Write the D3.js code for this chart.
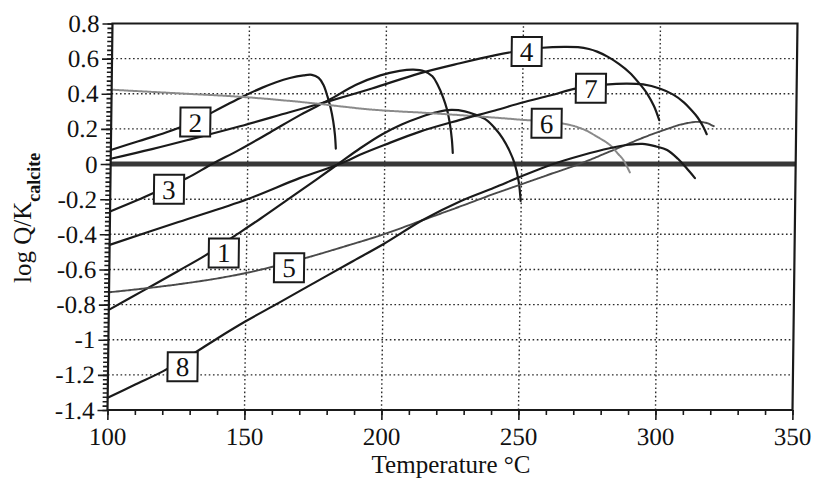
<!DOCTYPE html>
<html><head><meta charset="utf-8">
<script src="https://cdn.jsdelivr.net/npm/d3@7"></script>
<style>
html,body{margin:0;padding:0;background:#fff;}
svg{display:block;}
text{font-family:"Liberation Serif","Times New Roman",serif;fill:#111;}
</style></head><body>
<svg id="chart" width="816" height="479"></svg>
<script>
// Axis ticks
const xMajorTicks = [100, 150, 200, 250, 300, 350];
const xMinorTicks = d3.range(100, 351, 10);
const yMajorTicks = [-1.4, -1.2, -1, -0.8, -0.6, -0.4, -0.2, 0, 0.2, 0.4, 0.6, 0.8];
const yMinorTicks = d3.range(0, 89).map(i => -1.4 + i * 0.025);
const xGridTicks = [150, 200, 250, 300];
const yGridTicks = [-1.2, -1, -0.8, -0.6, -0.4, -0.2, 0.2, 0.4, 0.6];

// Saturation index curves: [temperature °C, log Q/K calcite]
const curve1 = [[100,-0.83],[112,-0.725],[125,-0.61],[135,-0.52],[145,-0.415],[155,-0.31],[165,-0.2],[175,-0.09],[183,0],[191,0.09],[199,0.17],[206,0.225],[213,0.268],[219,0.296],[224,0.308],[229,0.3],[233,0.28],[237,0.25],[240,0.205],[243,0.145],[245.5,0.075],[247.5,0],[249,-0.1],[249.8,-0.21]];
const curve2 = [[100,0.08],[110,0.13],[120,0.18],[130,0.24],[140,0.32],[148,0.385],[155,0.435],[160,0.466],[165,0.49],[170,0.505],[173,0.508],[175.5,0.49],[177.3,0.45],[178.8,0.385],[180,0.32],[181,0.245],[181.7,0.167],[182.1,0.088]];
const curve3 = [[100,-0.27],[110,-0.205],[120,-0.135],[128,-0.08],[137,0],[147,0.082],[158,0.18],[169,0.28],[180,0.37],[189,0.45],[198,0.505],[205,0.53],[210,0.537],[214,0.528],[217,0.5],[219,0.45],[221,0.38],[222.5,0.31],[223.7,0.22],[224.4,0.14],[224.8,0.063]];
const curve4 = [[100,0.03],[115,0.085],[130,0.145],[147,0.215],[165,0.295],[180,0.361],[195,0.43],[212,0.515],[227,0.574],[240,0.62],[250,0.648],[257,0.662],[265,0.667],[270,0.665],[274,0.655],[277,0.64],[281,0.61],[285,0.57],[289,0.52],[292.5,0.46],[295.5,0.4],[298,0.33],[300,0.25]];
const curve5 = [[100,-0.73],[112,-0.71],[125,-0.685],[138,-0.655],[150,-0.62],[160,-0.583],[172,-0.533],[186,-0.468],[200,-0.4],[214,-0.32],[228,-0.24],[240,-0.17],[250,-0.115],[260,-0.06],[271,0],[285,0.09],[295,0.155],[302,0.195],[308,0.225],[313.5,0.24],[317,0.235],[320,0.215]];
const curve6 = [[100,0.423],[125,0.402],[147,0.383],[170,0.352],[195,0.31],[215,0.291],[235,0.27],[249,0.253],[264,0.233],[272,0.2],[278,0.15],[282,0.11],[285,0.06],[287,0.025],[289.6,-0.05]];
const curve7 = [[100,-0.46],[125,-0.33],[150,-0.2],[169,-0.08],[183.5,0],[192,0.06],[200,0.11],[213,0.186],[227,0.25],[240,0.305],[250,0.35],[260,0.39],[270,0.432],[280,0.452],[288,0.458],[294,0.453],[300,0.43],[305,0.395],[309,0.35],[311.5,0.31],[314,0.265],[316,0.215],[317.4,0.17]];
const curve8 = [[100,-1.33],[110,-1.255],[120,-1.18],[130,-1.09],[140,-0.99],[150,-0.895],[162,-0.79],[175,-0.675],[188,-0.56],[200,-0.455],[214,-0.32],[228,-0.21],[240,-0.135],[250,-0.07],[261.5,0],[272,0.05],[282,0.09],[289,0.11],[294,0.115],[299,0.1],[303,0.08],[307,0.03],[310,-0.02],[313.3,-0.08]];

// Boxed curve numbers: name, temperature and value at the box centre
const labelNames = ["1", "2", "3", "4", "5", "6", "7", "8"];
const labelTemps = [141.7, 130.7, 121.4, 251.3, 165.6, 258.9, 274.9, 127.2];
const labelValues = [-0.506, 0.239, -0.144, 0.641, -0.59, 0.232, 0.431, -1.154];

const svg = d3.select("#chart");
const x = d3.scaleLinear().domain([100, 350]).range([107.5, 792.5]);
const y = d3.scaleLinear().domain([-1.4, 0.8]).range([410, 23.5]);
const serif = '"Liberation Serif","Times New Roman",serif';

// the plot is drawn with a slight lean, pivoting on the bottom axis
const plot = svg.append("g")
  .attr("transform", `translate(0,${y(-1.4)}) skewX(-0.74) translate(0,${-y(-1.4)})`);

// dotted grid
plot.append("g").selectAll("line.h").data(yGridTicks).join("line")
  .attr("x1", x(100)).attr("x2", x(350))
  .attr("y1", d => y(d)).attr("y2", d => y(d))
  .attr("stroke", "#2a2a2a").attr("stroke-width", 1.4)
  .attr("stroke-dasharray", "1.6,2.6");
plot.append("g").selectAll("line.v").data(xGridTicks).join("line")
  .attr("x1", d => x(d)).attr("x2", d => x(d))
  .attr("y1", y(-1.4)).attr("y2", y(0.8))
  .attr("stroke", "#2a2a2a").attr("stroke-width", 1.4)
  .attr("stroke-dasharray", "1.6,2.6");

// equilibrium line
plot.append("line")
  .attr("x1", x(100)).attr("x2", x(350))
  .attr("y1", y(0)).attr("y2", y(0))
  .attr("stroke", "#383838").attr("stroke-width", 5);

const line = d3.line()
  .x(d => x(d[0])).y(d => y(d[1]))
  .curve(d3.curveCatmullRom.alpha(0.5));

const series = [
  { data: curve1, color: "#1a1a1a", width: 2.2, dash: null },
  { data: curve2, color: "#1a1a1a", width: 2.2, dash: null },
  { data: curve3, color: "#1a1a1a", width: 2.2, dash: null },
  { data: curve4, color: "#1a1a1a", width: 2.2, dash: null },
  { data: curve5, color: "#4a4a4a", width: 1.9, dash: "3,0.8" },
  { data: curve6, color: "#8a8a8a", width: 2.0, dash: "1.6,1" },
  { data: curve7, color: "#1a1a1a", width: 2.2, dash: null },
  { data: curve8, color: "#1a1a1a", width: 2.2, dash: null }
];

plot.append("g").selectAll("path").data(series).join("path")
  .attr("d", d => line(d.data))
  .attr("fill", "none")
  .attr("stroke", d => d.color)
  .attr("stroke-width", d => d.width)
  .attr("stroke-dasharray", d => d.dash)
  .attr("stroke-linecap", "round");

// boxed curve numbers
const boxW = 30, boxH = 29;
const labels = plot.append("g").selectAll("g").data(labelNames).join("g")
  .attr("transform", (d, i) => `translate(${x(labelTemps[i])},${y(labelValues[i])})`);
labels.append("rect")
  .attr("x", -boxW / 2).attr("y", -boxH / 2)
  .attr("width", boxW).attr("height", boxH)
  .attr("fill", "#fff").attr("stroke", "#1a1a1a").attr("stroke-width", 2);
labels.append("text")
  .attr("text-anchor", "middle").attr("dy", "0.35em")
  .attr("font-family", serif)
  .style("font-size", "27px")
  .text(d => d);

// frame
plot.append("rect")
  .attr("x", x(100)).attr("y", y(0.8))
  .attr("width", x(350) - x(100)).attr("height", y(-1.4) - y(0.8))
  .attr("fill", "none").attr("stroke", "#1a1a1a").attr("stroke-width", 2.2);

const fmt = d => String(Math.abs(d) < 1e-9 ? 0 : +d.toFixed(1));

// x axis
const xMinor = plot.append("g").attr("transform", `translate(0,${y(-1.4)})`)
  .call(d3.axisBottom(x).tickValues(xMinorTicks).tickSize(5).tickFormat(""));
const xMajor = plot.append("g").attr("transform", `translate(0,${y(-1.4)})`)
  .call(d3.axisBottom(x).tickValues(xMajorTicks).tickSize(10).tickPadding(7).tickFormat(d => String(d)));

// y axis
const yMinor = plot.append("g").attr("transform", `translate(${x(100)},0)`)
  .call(d3.axisLeft(y).tickValues(yMinorTicks).tickSize(5).tickFormat(""));
const yMajor = plot.append("g").attr("transform", `translate(${x(100)},0)`)
  .call(d3.axisLeft(y).tickValues(yMajorTicks).tickSize(10).tickPadding(3).tickFormat(fmt));

[xMinor, xMajor, yMinor, yMajor].forEach(g => {
  g.select(".domain").remove();
  g.attr("font-family", serif).attr("font-size", 25);
  g.selectAll(".tick line").attr("stroke", "#1a1a1a").attr("stroke-width", 1.6);
  g.selectAll(".tick text").attr("fill", "#111");
});

// axis titles
svg.append("text")
  .attr("x", (x(100) + x(350)) / 2 + 1).attr("y", 473)
  .attr("text-anchor", "middle")
  .attr("font-family", serif)
  .style("font-size", "25px")
  .text("Temperature °C");

const yTitle = svg.append("text")
  .attr("transform", "translate(31,283) rotate(-90)")
  .attr("text-anchor", "start")
  .attr("font-family", serif)
  .style("font-size", "25px");
yTitle.append("tspan").text("log Q/K");
yTitle.append("tspan")
  .attr("dy", 9)
  .style("font-size", "18px").style("font-weight", "bold")
  .text("calcite");
</script>
</body></html>
